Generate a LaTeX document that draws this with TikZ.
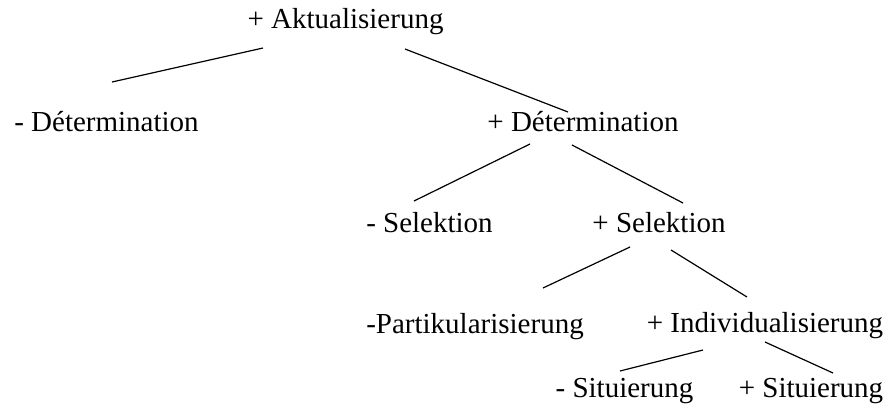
\documentclass[tikz,border=0pt]{standalone}
\usepackage{fontspec}
\setmainfont{Liberation Serif}
\tikzset{
    feat/.style={anchor=base, inner sep=0pt, font=\fontsize{14.5}{17}\selectfont},
    branch/.style={draw, line width=0.6pt}
}

\begin{document}
\begin{tikzpicture}[x=0.5pt, y=-0.5pt]
\useasboundingbox (0,0) rectangle (894,408);

\node[feat] (akt) at (345.5,28) {+ Aktualisierung};
\node[feat] (detm) at (106.5,131) {- Détermination};
\node[feat] (detp) at (583,131) {+ Détermination};
\node[feat] (selm) at (429.5,232) {- Selektion};
\node[feat] (selp) at (659,232) {+ Selektion};
\node[feat] (part) at (475,333) {-Partikularisierung};
\node[feat] (indiv) at (765,332) {+ Individualisierung};
\node[feat] (situm) at (624.5,397) {- Situierung};
\node[feat] (situp) at (811,397) {+ Situierung};

% branch ends
\coordinate (akt-l) at (263,48);  \coordinate (detm-t) at (112,82);
\coordinate (akt-r) at (405,49);  \coordinate (detp-t) at (568,112);
\coordinate (detp-l) at (530,144); \coordinate (selm-t) at (414,201);
\coordinate (detp-r) at (572,145); \coordinate (selp-t) at (683,203);
\coordinate (selp-l) at (630,247); \coordinate (part-t) at (543,288);
\coordinate (selp-r) at (671,250); \coordinate (indiv-t) at (747,297);
\coordinate (indiv-l) at (703,350); \coordinate (situm-t) at (620,371);
\coordinate (indiv-r) at (765,342); \coordinate (situp-t) at (833,373);

\draw[branch] (akt-l) -- (detm-t);
\draw[branch] (akt-r) -- (detp-t);
\draw[branch] (detp-l) -- (selm-t);
\draw[branch] (detp-r) -- (selp-t);
\draw[branch] (selp-l) -- (part-t);
\draw[branch] (selp-r) -- (indiv-t);
\draw[branch] (indiv-l) -- (situm-t);
\draw[branch] (indiv-r) -- (situp-t);
\end{tikzpicture}
\end{document}
